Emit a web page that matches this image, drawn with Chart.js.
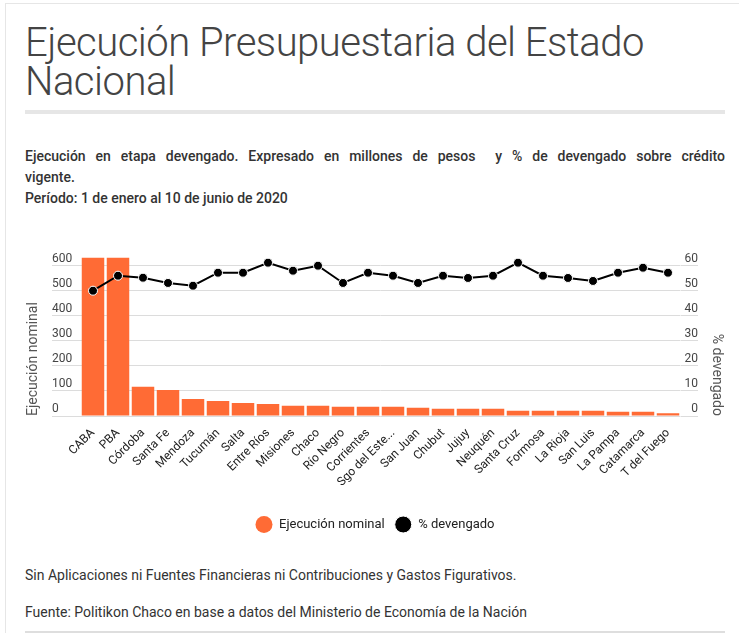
<!DOCTYPE html>
<html lang="es">
<head>
<meta charset="utf-8">
<title>Ejecución Presupuestaria del Estado Nacional</title>
<script src="https://cdn.jsdelivr.net/npm/chart.js@4.4.1/dist/chart.umd.min.js"></script>
<style>
  body { margin: 0; background: #fff; font-family: Roboto, sans-serif; color: #333; }
  #page { position: relative; width: 739px; height: 633px; overflow: hidden; }
  #frame { position: absolute; left: 5px; top: 3px; right: -10px; bottom: -10px;
           border-left: 1px solid #e6e6e6; border-top: 1px solid #e6e6e6; }
  h1 { position: absolute; left: 25px; top: 23px; margin: 0; width: 700px;
       font-weight: 300; font-size: 40px; line-height: 39px; letter-spacing: -0.5px; color: #444; }
  #rule { position: absolute; left: 25px; top: 110px; width: 700px; height: 4px; background: #e6e6e6; }
  .txt { position: absolute; left: 25px; width: 700px; margin: 0; font-size: 14px; line-height: 21px; }
  #sub1 { top: 146px; font-weight: 500; text-align: justify; text-align-last: justify; }
  #sub2 { top: 167px; font-weight: 500; }
  #sub3 { top: 188px; font-weight: 500; }
  #foot1 { top: 565px; }
  #foot2 { top: 602px; }
  #bottomRule { position: absolute; left: 25px; top: 631px; width: 700px; height: 2px; background: #dedede; }
  #chartBox { position: absolute; left: 0; top: 240px; width: 739px; height: 302px; }
</style>
</head>
<body>
<div id="page">
  <div id="frame"></div>
  <h1>Ejecución Presupuestaria del Estado Nacional</h1>
  <div id="rule"></div>
  <p class="txt" id="sub1">Ejecución en etapa devengado. Expresado en millones de pesos &nbsp;y % de devengado sobre crédito</p>
  <p class="txt" id="sub2">vigente.</p>
  <p class="txt" id="sub3">Período: 1 de enero al 10 de junio de 2020</p>
  <div id="chartBox"><canvas id="myChart"></canvas></div>
  <p class="txt" id="foot1">Sin Aplicaciones ni Fuentes Financieras ni Contribuciones y Gastos Figurativos.</p>
  <p class="txt" id="foot2">Fuente: Politikon Chaco en base a datos del Ministerio de Economía de la Nación</p>
  <div id="bottomRule"></div>
</div>
<script>
// Provincias (orden del gráfico)
const provincias = ['CABA', 'PBA', 'Córdoba', 'Santa Fe', 'Mendoza', 'Tucumán', 'Salta',
  'Entre Ríos', 'Misiones', 'Chaco', 'Río Negro', 'Corrientes', 'Sgo del Estero', 'San Juan',
  'Chubut', 'Jujuy', 'Neuquén', 'Santa Cruz', 'Formosa', 'La Rioja', 'San Luis', 'La Pampa',
  'Catamarca', 'T del Fuego']

// Ejecución nominal (CABA y PBA salen del gráfico, valores estimados)
const ejecucionNominal = [1500, 1000, 117, 104, 68, 60, 52, 48, 41, 41, 37, 37, 37, 33,
  29, 29, 29, 21, 21, 21, 21, 17, 17, 11]

// % devengado sobre crédito vigente
const pctDevengado = [50.1, 56.1, 55.3, 53.2, 52.1, 57.3, 57.3, 61.3, 58.1, 60.1, 53.2, 57.3,
  56.1, 53.2, 56.1, 55.2, 56.1, 61.3, 56.1, 55.2, 54.0, 57.3, 59.3, 57.3]

const ticksNominal = [0, 100, 200, 300, 400, 500, 600]
const ticksPct = [0, 10, 20, 30, 40, 50, 60]

Chart.defaults.font.family = 'Roboto'

const ctx = document.getElementById('myChart').getContext('2d')
new Chart(ctx, {
  type: 'bar',
  data: {
    labels: provincias,
    datasets: [
      {
        label: 'Ejecución nominal',
        data: ejecucionNominal,
        yAxisID: 'yNominal',
        backgroundColor: '#ff6b35',
        categoryPercentage: 1,
        barPercentage: 0.9,
        clip: 0,
        order: 2
      },
      {
        type: 'line',
        label: '% devengado',
        data: pctDevengado,
        yAxisID: 'yPct',
        borderColor: '#000',
        borderWidth: 2,
        pointRadius: 4.5,
        pointBackgroundColor: '#000',
        pointBorderColor: '#fff',
        pointBorderWidth: 1,
        order: 1
      }
    ]
  },
  options: {
    responsive: true,
    maintainAspectRatio: false,
    animation: false,
    layout: { padding: { left: 52, right: 41, top: 17.7, bottom: 1 } },
    plugins: {
      tooltip: { enabled: false },
      legend: {
        position: 'bottom',
        labels: {
          usePointStyle: true,
          pointStyle: 'circle',
          pointStyleWidth: 17,
          boxHeight: 12,
          color: '#222',
          font: { size: 13 },
          padding: 10,
          sort: (a, b) => a.datasetIndex - b.datasetIndex
        }
      }
    },
    scales: {
      x: {
        grid: { display: false },
        border: { display: false },
        ticks: {
          color: '#222',
          font: { size: 12 },
          minRotation: 45,
          maxRotation: 45,
          autoSkip: false,
          padding: 2,
          callback: function (value) {
            const s = this.getLabelForValue(value)
            return s.length > 13 ? s.slice(0, 12) + '...' : s
          }
        },
        afterFit: scale => { scale.height = 92 }
      },
      yNominal: {
        position: 'left',
        min: 0,
        max: 633,
        afterBuildTicks: scale => { scale.ticks = ticksNominal.map(v => ({ value: v })) },
        afterFit: scale => { scale.width = 28.5 },
        grid: { color: '#dcdcdc', tickLength: 28.5 },
        border: { display: false },
        ticks: { crossAlign: 'far', labelOffset: -7, padding: 0, color: '#444', font: { size: 12 } },
        title: {
          display: true,
          text: 'Ejecución nominal',
          align: 'start',
          color: '#555',
          font: { size: 14 },
          padding: { top: -27, bottom: 0 }
        }
      },
      yPct: {
        position: 'right',
        min: 0,
        max: 63.3,
        afterBuildTicks: scale => { scale.ticks = ticksPct.map(v => ({ value: v })) },
        afterFit: scale => { scale.width = 17.5 },
        grid: { drawOnChartArea: false, color: '#dcdcdc', tickLength: 17.5 },
        border: { display: false },
        ticks: { crossAlign: 'far', labelOffset: -7, padding: 0, color: '#444', font: { size: 12 } },
        title: {
          display: true,
          text: '% devengado',
          align: 'start',
          color: '#555',
          font: { size: 14 },
          padding: { top: -27, bottom: 0 }
        }
      }
    }
  }
})
</script>
</body>
</html>
